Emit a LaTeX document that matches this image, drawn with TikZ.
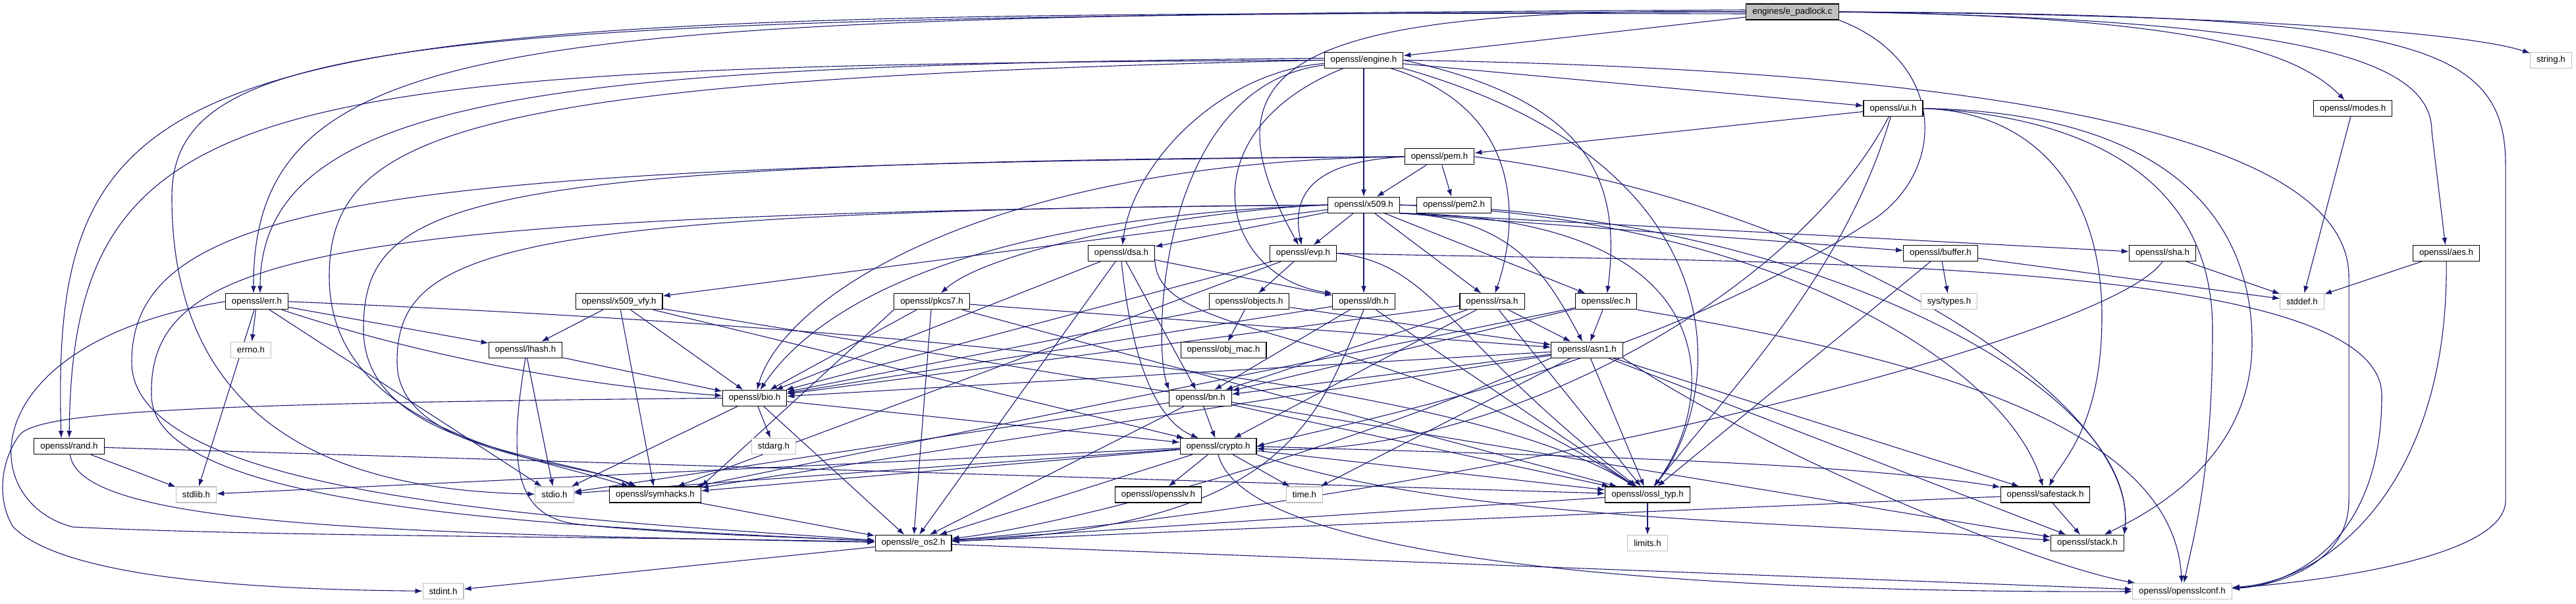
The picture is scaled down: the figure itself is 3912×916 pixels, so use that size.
\documentclass[tikz,border=0pt]{standalone}
\usepackage{fontspec}
\setmainfont{Liberation Sans}
\usetikzlibrary{arrows.meta,backgrounds}
\definecolor{edgeblue}{HTML}{191970}
\definecolor{sysgray}{HTML}{BFBFBF}

\begin{document}
\begin{tikzpicture}[x=1pt, y=-1pt,
    hdr/.style={draw=black, fill=white, line width=1.1pt, minimum height=24pt,
      inner xsep=9.5pt, inner ysep=0pt, font=\fontsize{13.3pt}{15pt}\selectfont},
    sys/.style={hdr, draw=sysgray},
    src/.style={hdr, fill=sysgray},
    dep/.style={-{Latex[length=11pt,width=8pt]}, draw=edgeblue, line width=1.1pt},
  ]
  \def\dy{73.3}  % vertical rank spacing
  \useasboundingbox (0,0) rectangle (3912,916);

  % rank 0-4
  \node[src] (padlock) at (2722, 18) {engines/e\_padlock.c};
  \node[hdr] (engine)  at (2071, 18+\dy) {openssl/engine.h};
  \node[sys] (string)  at (3874, 18+\dy) {string.h};
  \node[hdr] (ui)      at (2875, 18+2*\dy) {openssl/ui.h};
  \node[hdr] (modes)   at (3573, 18+2*\dy) {openssl/modes.h};
  \node[hdr] (pem)     at (2186, 18+3*\dy) {openssl/pem.h};
  \node[hdr] (x509)    at (2071, 18+4*\dy) {openssl/x509.h};
  \node[hdr] (pem2)    at (2208, 18+4*\dy) {openssl/pem2.h};

  % rank 5
  \node[hdr] (dsa)     at (1703, 18+5*\dy) {openssl/dsa.h};
  \node[hdr] (evp)     at (1979, 18+5*\dy) {openssl/evp.h};
  \node[hdr] (buffer)  at (2947, 18+5*\dy) {openssl/buffer.h};
  \node[hdr] (sha)     at (3284, 18+5*\dy) {openssl/sha.h};
  \node[hdr] (aes)     at (3715, 18+5*\dy) {openssl/aes.h};

  % rank 6
  \node[hdr] (err)      at (390, 18+6*\dy) {openssl/err.h};
  \node[hdr] (x509vfy)  at (940, 18+6*\dy) {openssl/x509\_vfy.h};
  \node[hdr] (pkcs7)    at (1415, 18+6*\dy) {openssl/pkcs7.h};
  \node[hdr] (objects)  at (1897, 18+6*\dy) {openssl/objects.h};
  \node[hdr] (dh)       at (2071, 18+6*\dy) {openssl/dh.h};
  \node[hdr] (rsa)      at (2266, 18+6*\dy) {openssl/rsa.h};
  \node[hdr] (ec)       at (2439, 18+6*\dy) {openssl/ec.h};
  \node[sys] (systypes) at (2960, 18+6*\dy) {sys/types.h};
  \node[sys] (stddef)   at (3496, 18+6*\dy) {stddef.h};

  % rank 7-8
  \node[sys] (errno)  at (381, 18+7*\dy) {errno.h};
  \node[hdr] (lhash)  at (798, 18+7*\dy) {openssl/lhash.h};
  \node[hdr] (objmac) at (1858, 18+7*\dy) {openssl/obj\_mac.h};
  \node[hdr] (asn1)   at (2410, 18+7*\dy) {openssl/asn1.h};
  \node[hdr] (bio)    at (1146, 18+8*\dy) {openssl/bio.h};
  \node[hdr] (bn)     at (1823, 18+8*\dy) {openssl/bn.h};

  % rank 9-10
  \node[hdr] (rand)      at (105, 18+9*\dy) {openssl/rand.h};
  \node[sys] (stdarg)    at (1175, 18+9*\dy) {stdarg.h};
  \node[hdr] (crypto)    at (1850, 18+9*\dy) {openssl/crypto.h};
  \node[sys] (stdlib)    at (298, 18+10*\dy) {stdlib.h};
  \node[sys] (stdio)     at (842, 18+10*\dy) {stdio.h};
  \node[hdr] (symhacks)  at (995, 18+10*\dy) {openssl/symhacks.h};
  \node[hdr] (opensslv)  at (1759, 18+10*\dy) {openssl/opensslv.h};
  \node[sys] (time)      at (1981, 18+10*\dy) {time.h};
  \node[hdr] (ossltyp)   at (2502, 18+10*\dy) {openssl/ossl\_typ.h};
  \node[hdr] (safestack) at (3106, 18+10*\dy) {openssl/safestack.h};

  % rank 11-12
  \node[hdr] (eos2)   at (1387, 18+11*\dy) {openssl/e\_os2.h};
  \node[sys] (limits) at (2502, 18+11*\dy) {limits.h};
  \node[hdr] (stack)  at (3170, 18+11*\dy) {openssl/stack.h};
  \node[sys] (stdint) at (673, 18+12*\dy) {stdint.h};
  \node[sys] (conf)   at (3314, 18+12*\dy) {openssl/opensslconf.h};

  \begin{scope}[on background layer]
    % e_padlock.c
    \draw[dep] (padlock) -- (engine);
    \draw[dep] (padlock.west) .. controls (1950,10) and (1820,100) .. (evp);
    \draw[dep] ([yshift=3pt]padlock.west) .. controls (800,25) and (384,40) .. ([xshift=-5pt]err.north);
    \draw[dep] ([yshift=-3pt]padlock.west) .. controls (300,15) and (75,40) .. ([xshift=-12pt]rand.north);
    \draw[dep] (padlock.west) .. controls (600,22) and (261,60) .. (261,300)
      .. controls (261,700) and (600,745) .. (stdio);
    \draw[dep] (padlock.south east) .. controls (2950,90) and (2960,250) .. (2850,330)
      .. controls (2500,560) and (2050,640) .. (crypto.east);
    \draw[dep] (padlock.east) .. controls (3300,25) and (3480,70) .. (modes);
    \draw[dep] (padlock.east) .. controls (3500,30) and (3693,90) .. (3693,200) -- (aes);
    \draw[dep] (padlock.east) .. controls (3400,22) and (3750,50) .. (string);
    \draw[dep] (padlock.east) .. controls (3650,22) and (3805,60) .. (3805,250) -- (3805,760)
      .. controls (3805,850) and (3500,885) .. (conf);

    % engine.h
    \draw[dep] (engine) -- (ui);
    \draw[dep] (engine) -- (x509);
    \draw[dep] (engine) .. controls (2330,170) and (2300,360) .. (rsa);
    \draw[dep] (engine.east) .. controls (2400,150) and (2465,260) .. (ec);
    \draw[dep] (engine) .. controls (1800,200) and (1850,420) .. (dh.north west);
    \draw[dep] (engine) .. controls (1850,110) and (1720,250) .. (dsa);
    \draw[dep] (engine) .. controls (1760,130) and (1750,520) .. (bn.north west);
    \draw[dep] (engine.west) .. controls (400,100) and (110,130) .. (rand);
    \draw[dep] ([yshift=3pt]engine.west) .. controls (900,100) and (395,130) .. ([xshift=5pt]err.north);
    \draw[dep] (engine.west) .. controls (700,120) and (500,200) .. (500,420)
      .. controls (500,650) and (800,690) .. (symhacks);
    \draw[dep] (engine.south east) .. controls (2650,250) and (2620,600) .. (ossltyp);
    \draw[dep] (engine.east) .. controls (3000,105) and (3567,200) .. (3567,420) -- (3567,760)
      .. controls (3567,860) and (3450,890) .. (conf);

    % ui.h
    \draw[dep] (ui) -- (pem);
    \draw[dep] (ui) .. controls (2720,460) and (2250,700) .. (crypto);
    \draw[dep] (ui) .. controls (2800,420) and (2620,600) .. (ossltyp);
    \draw[dep] (ui.east) .. controls (3100,170) and (3192,300) .. (3192,480)
      .. controls (3192,650) and (3130,700) .. (safestack);
    \draw[dep] (ui.east) .. controls (3150,175) and (3360,260) .. (3360,500)
      .. controls (3360,720) and (3330,820) .. (conf);
    \draw[dep] (ui.east) .. controls (3250,170) and (3420,300) .. (3420,520)
      .. controls (3420,700) and (3260,780) .. (stack);

    % pem.h
    \draw[dep] (pem) -- (x509);
    \draw[dep] (pem) -- (pem2);
    \draw[dep] (pem.west) .. controls (2000,245) and (1960,290) .. (evp);
    \draw[dep] (pem.west) .. controls (1500,245) and (1190,450) .. (bio);
    \draw[dep] (pem.west) .. controls (700,245) and (552,300) .. (552,500)
      .. controls (552,680) and (850,690) .. (symhacks);
    \draw[dep] (pem.west) .. controls (600,250) and (200,300) .. (200,550)
      .. controls (200,760) and (900,790) .. (eos2);
    \draw[dep] (pem.east) .. controls (2750,300) and (3250,600) .. (stack.north east);

    % x509.h
    \draw[dep] (x509) -- (evp);
    \draw[dep] (x509) -- (dh);
    \draw[dep] (x509) -- (rsa);
    \draw[dep] (x509) -- (ec);
    \draw[dep] (x509) -- (dsa);
    \draw[dep] (x509.south east) -- (buffer);
    \draw[dep] (x509.south east) -- (sha);
    \draw[dep] (x509) -- (x509vfy);
    \draw[dep] (x509.west) .. controls (1800,320) and (1500,380) .. (pkcs7);
    \draw[dep] (x509.west) .. controls (1500,330) and (1250,450) .. (bio);
    \draw[dep] (x509.west) .. controls (750,320) and (603,380) .. (603,550)
      .. controls (603,690) and (880,700) .. (symhacks);
    \draw[dep] (x509.west) .. controls (500,325) and (225,380) .. (230,600)
      .. controls (230,780) and (900,800) .. (eos2);
    \draw[dep] (x509.east) .. controls (2700,330) and (3050,560) .. (safestack);
    \draw[dep] (x509.east) .. controls (2720,320) and (3250,580) .. (stack.north east);
    \draw[dep] (x509.south east) .. controls (2300,330) and (2350,420) .. (asn1);
    \draw[dep] (x509.south east) .. controls (2650,330) and (2600,620) .. (ossltyp);

    % evp.h
    \draw[dep] (evp) -- (objects);
    \draw[dep] (evp) -- (bio);
    \draw[dep] (evp) -- (symhacks);
    \draw[dep] (evp.east) .. controls (2180,400) and (2200,520) .. (ossltyp);
    \draw[dep] (evp.east) .. controls (2600,400) and (3617,380) .. (3617,600)
      .. controls (3617,850) and (3450,890) .. (conf);

    % dsa.h
    \draw[dep] (dsa) -- (dh);
    \draw[dep] (dsa) -- (bn);
    \draw[dep] (dsa.south) .. controls (1720,560) and (1760,640) .. (crypto);
    \draw[dep] (dsa) -- (bio);
    \draw[dep] (dsa) -- (eos2);
    \draw[dep] (dsa.south east) .. controls (1760,520) and (2100,490) .. (ossltyp);

    % dh.h, rsa.h, ec.h
    \draw[dep] (dh) -- (bio);
    \draw[dep] (dh) -- (bn);
    \draw[dep] (dh.south) .. controls (2000,640) and (1950,800) .. (eos2);
    \draw[dep] (dh) -- (ossltyp);
    \draw[dep] (rsa) -- (asn1);
    \draw[dep] (rsa) -- (bio);
    \draw[dep] (rsa) -- (crypto);
    \draw[dep] (rsa) -- (bn);
    \draw[dep] (rsa) -- (ossltyp);
    \draw[dep] (ec) -- (asn1);
    \draw[dep] (ec) -- (symhacks);
    \draw[dep] (ec) -- (bn);
    \draw[dep] (ec.south east) .. controls (2900,540) and (3300,640) .. (conf);

    % buffer.h, sha.h, aes.h, modes.h
    \draw[dep] (buffer) -- (ossltyp);
    \draw[dep] (buffer) -- (stddef);
    \draw[dep] (buffer) -- (systypes);
    \draw[dep] (sha.south) .. controls (3200,520) and (2200,760) .. (eos2);
    \draw[dep] (sha) -- (stddef);
    \draw[dep] (aes) -- (stddef);
    \draw[dep] (aes.south) .. controls (3719,720) and (3550,880) .. (conf);
    \draw[dep] (modes) -- (stddef);

    % err.h
    \draw[dep] (err) -- (errno);
    \draw[dep] (err) -- (stdlib);
    \draw[dep] (err) -- (stdio);
    \draw[dep] (err) -- (lhash);
    \draw[dep] (err) .. controls (700,560) and (950,590) .. (bio);
    \draw[dep] (err.west) .. controls (-40,520) and (-40,760) .. (110,800)
      .. controls (400,815) and (1000,815) .. (eos2);
    \draw[dep] (err.east) .. controls (1200,490) and (2200,560) .. (ossltyp);

    % x509_vfy.h, pkcs7.h, objects.h, lhash.h
    \draw[dep] (x509vfy) -- (lhash);
    \draw[dep] (x509vfy) -- (symhacks);
    \draw[dep] (x509vfy) -- (bio);
    \draw[dep] (x509vfy) -- (crypto);
    \draw[dep] (x509vfy) -- (stack);
    \draw[dep] (pkcs7) -- (asn1);
    \draw[dep] (pkcs7) -- (bio);
    \draw[dep] (pkcs7) -- (eos2);
    \draw[dep] (pkcs7.south west) -- (symhacks.north east);
    \draw[dep] (pkcs7) -- (ossltyp);
    \draw[dep] (objects) -- (objmac);
    \draw[dep] (objects) -- (bio);
    \draw[dep] (objects) -- (asn1);
    \draw[dep] (lhash) -- (stdio);
    \draw[dep] (lhash) -- (bio);
    \draw[dep] (lhash.south) .. controls (772,700) and (780,780) .. (870,795)
      .. controls (1000,810) and (1200,815) .. (eos2);

    % asn1.h
    \draw[dep] (asn1) -- (time);
    \draw[dep] (asn1.south west) .. controls (2000,700) and (1600,800) .. (eos2);
    \draw[dep] (asn1) -- (bio);
    \draw[dep] (asn1) -- (stack);
    \draw[dep] (asn1) -- (safestack);
    \draw[dep] (asn1) -- (symhacks);
    \draw[dep] (asn1) -- (ossltyp);
    \draw[dep] (asn1) -- (bn);
    \draw[dep] (asn1.south east) .. controls (2700,700) and (3100,860) .. (conf);

    % bio.h, bn.h, rand.h
    \draw[dep] (bio) -- (eos2);
    \draw[dep] (bio) -- (stdio);
    \draw[dep] (bio) -- (stdarg);
    \draw[dep] (bio) -- (crypto);
    \draw[dep] (bio.west) .. controls (300,612) and (60,625) .. (30,660)
      .. controls (0,700) and (-5,760) .. (20,800)
      .. controls (100,880) and (400,895) .. (stdint);
    \draw[dep] (bn) -- (eos2);
    \draw[dep] (bn) -- (stdio);
    \draw[dep] (bn) -- (ossltyp);
    \draw[dep] (bn) -- (crypto);
    \draw[dep] (rand) -- (stdlib);
    \draw[dep] (rand) .. controls (120,800) and (600,810) .. (eos2);
    \draw[dep] (rand) -- (ossltyp);

    % crypto.h
    \draw[dep] (crypto) -- (stdlib);
    \draw[dep] (crypto) -- (eos2);
    \draw[dep] (crypto) -- (stdio);
    \draw[dep] (crypto) -- (symhacks);
    \draw[dep] (crypto) -- (opensslv);
    \draw[dep] (crypto) -- (time);
    \draw[dep] (crypto) -- (ossltyp);
    \draw[dep] (crypto.south east) .. controls (2200,790) and (2700,790) .. (stack);
    \draw[dep] (crypto.east) .. controls (2300,690) and (2800,700) .. (safestack);
    \draw[dep] (crypto.south) .. controls (1900,880) and (2800,900) .. (conf);

    % leaves
    \draw[dep] (symhacks) -- (eos2);
    \draw[dep] (ossltyp) -- (eos2);
    \draw[dep] (ossltyp) -- (limits);
    \draw[dep] (safestack) -- (stack);
    \draw[dep] (safestack) -- (eos2);
    \draw[dep] (eos2) -- (conf);
    \draw[dep] (eos2) -- (stdint);
  \end{scope}
\end{tikzpicture}
\end{document}
